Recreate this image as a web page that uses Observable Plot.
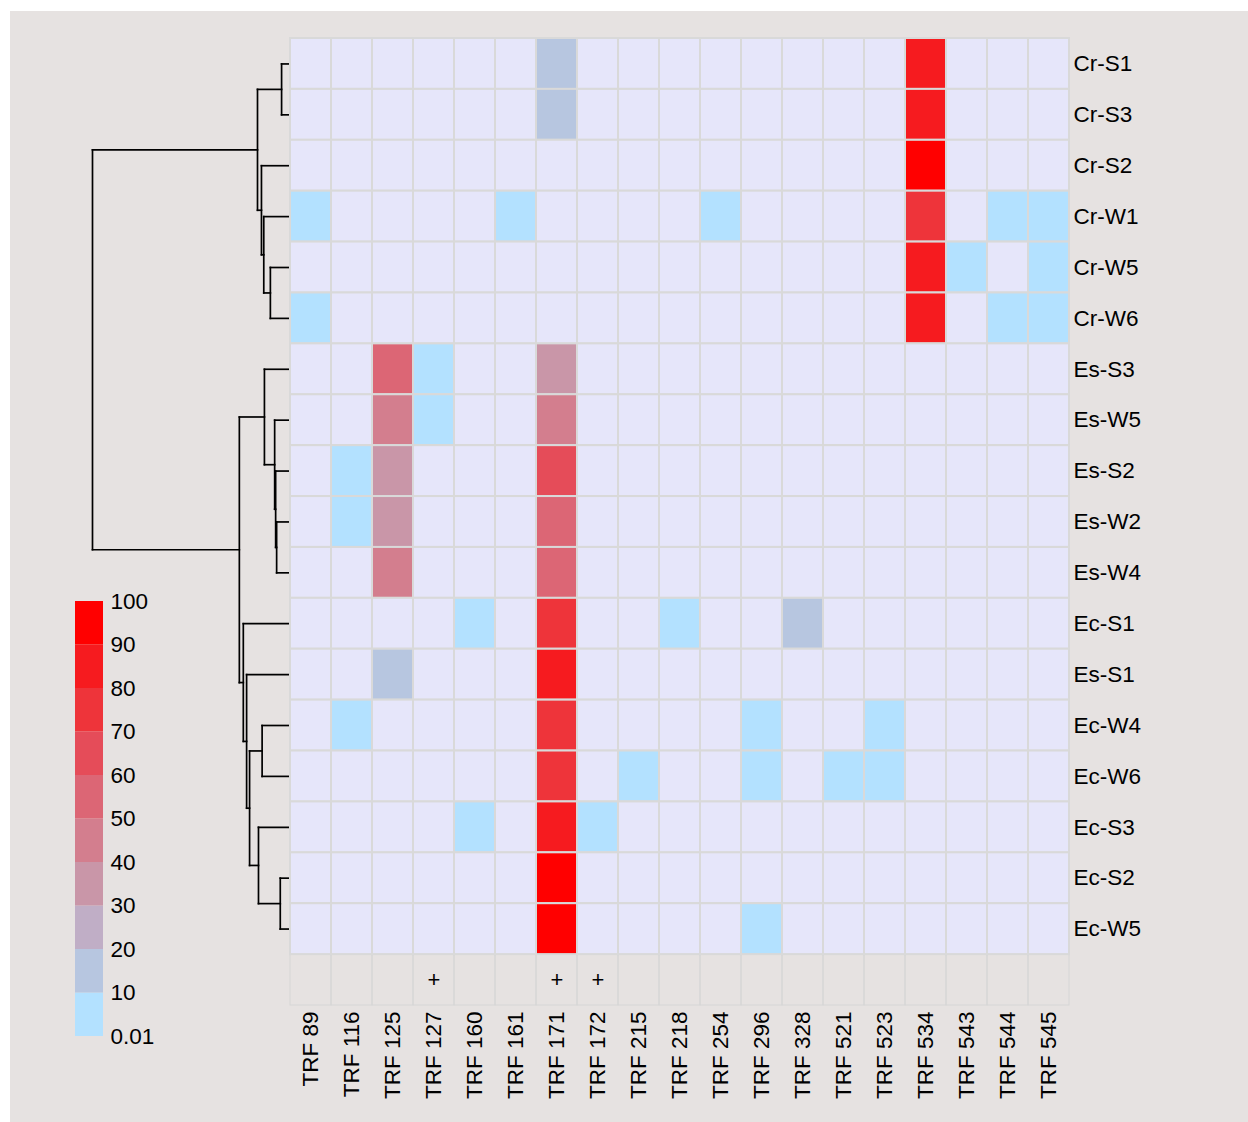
<!DOCTYPE html>
<html><head><meta charset="utf-8">
<script src="https://cdn.jsdelivr.net/npm/d3@7"></script>
<script src="https://cdn.jsdelivr.net/npm/@observablehq/plot@0.6"></script>
<style>
html,body{margin:0;padding:0;background:#fff;}
#wrap{position:relative;width:1248px;height:1122px;overflow:hidden;}
#panel{position:absolute;left:10px;top:11px;right:0;bottom:0;background:#e6e2e1;}
#wrap svg{position:absolute;left:0;top:0;}
</style></head><body><div id="wrap"><div id="panel"></div></div>
<script>
const columns = ["TRF 89","TRF 116","TRF 125","TRF 127","TRF 160","TRF 161","TRF 171","TRF 172","TRF 215","TRF 218","TRF 254","TRF 296","TRF 328","TRF 521","TRF 523","TRF 534","TRF 543","TRF 544","TRF 545"];
const rows = ["Cr-S1","Cr-S3","Cr-S2","Cr-W1","Cr-W5","Cr-W6","Es-S3","Es-W5","Es-S2","Es-W2","Es-W4","Ec-S1","Es-S1","Ec-W4","Ec-W6","Ec-S3","Ec-S2","Ec-W5"];
// relative abundance (%) per row, one entry per column; 0 = absent
const values = [
  [0,0,0,0,0,0,15,0,0,0,0,0,0,0,0,85,0,0,0],
  [0,0,0,0,0,0,15,0,0,0,0,0,0,0,0,85,0,0,0],
  [0,0,0,0,0,0,0,0,0,0,0,0,0,0,0,95,0,0,0],
  [5,0,0,0,0,5,0,0,0,0,5,0,0,0,0,75,0,5,5],
  [0,0,0,0,0,0,0,0,0,0,0,0,0,0,0,85,5,0,5],
  [5,0,0,0,0,0,0,0,0,0,0,0,0,0,0,85,0,5,5],
  [0,0,55,5,0,0,35,0,0,0,0,0,0,0,0,0,0,0,0],
  [0,0,45,5,0,0,45,0,0,0,0,0,0,0,0,0,0,0,0],
  [0,5,35,0,0,0,65,0,0,0,0,0,0,0,0,0,0,0,0],
  [0,5,35,0,0,0,55,0,0,0,0,0,0,0,0,0,0,0,0],
  [0,0,45,0,0,0,55,0,0,0,0,0,0,0,0,0,0,0,0],
  [0,0,0,0,5,0,75,0,0,5,0,0,15,0,0,0,0,0,0],
  [0,0,15,0,0,0,85,0,0,0,0,0,0,0,0,0,0,0,0],
  [0,5,0,0,0,0,75,0,0,0,0,5,0,0,5,0,0,0,0],
  [0,0,0,0,0,0,75,0,5,0,0,5,0,5,5,0,0,0,0],
  [0,0,0,0,5,0,85,5,0,0,0,0,0,0,0,0,0,0,0],
  [0,0,0,0,0,0,95,0,0,0,0,0,0,0,0,0,0,0,0],
  [0,0,0,0,0,0,95,0,0,0,0,5,0,0,0,0,0,0,0]
];
const annotated = ["TRF 127","TRF 171","TRF 172"];
const legendBreaks = [0.01,10,20,30,40,50,60,70,80,90,100];
const legendLabels = ["0.01","10","20","30","40","50","60","70","80","90","100"];
const palette = ["#b3e1ff","#b7c6e0","#c0aec6","#c996a8","#d37e8e","#dc6675","#e54c59","#ee343a","#f61b1f","#ff0000"];
const absentColor = "#e6e6fa";
// dendrogram: [node, left, right, height]
const merges = [
  ["n1","Cr-S1","Cr-S3",0.27],
  ["n2","Cr-W5","Cr-W6",0.61],
  ["n3","Cr-W1","n2",0.81],
  ["n4","Cr-S2","n3",0.88],
  ["n5","n1","n4",1.00],
  ["n6","Es-W2","Es-W4",0.42],
  ["n7","Es-S2","n6",0.45],
  ["n8","Es-W5","n7",0.48],
  ["n9","Es-S3","n8",0.79],
  ["n10","Ec-S2","Ec-W5",0.31],
  ["n11","Ec-S3","n10",0.97],
  ["n12","Ec-W4","Ec-W6",0.86],
  ["n13","n12","n11",1.24],
  ["n14","Es-S1","n13",1.33],
  ["n15","Ec-S1","n14",1.43],
  ["n16","n9","n15",1.55],
  ["n17","n5","n16",6.00]
];

const FONT = "'Liberation Sans', Arial, Helvetica, sans-serif";
const W = 1248, H = 1122;
const wrap = document.getElementById("wrap");

// dendrogram segments
const pos = new Map(rows.map((r, i) => [r, {h: 0, y: i}]));
const segs = [];
for (const [id, a, b, h] of merges) {
  const pa = pos.get(a), pb = pos.get(b);
  segs.push({x1: pa.h, y1: pa.y, x2: h, y2: pa.y});
  segs.push({x1: pb.h, y1: pb.y, x2: h, y2: pb.y});
  segs.push({x1: h, y1: pa.y, x2: h, y2: pb.y});
  pos.set(id, {h, y: (pa.y + pb.y) / 2});
}
const dendro = Plot.plot({
  width: W, height: H,
  marginLeft: 92, marginRight: W - 290, marginTop: 38, marginBottom: H - 954,
  style: {background: "transparent", overflow: "visible"},
  x: {domain: [0, 6], reverse: true, axis: null},
  y: {domain: [-0.5, rows.length - 0.5], reverse: true, axis: null},
  marks: [
    Plot.link(segs, {x1: "x1", y1: "y1", x2: "x2", y2: "y2", stroke: "#000", strokeWidth: 1.7, strokeLinecap: "square"})
  ]
});
wrap.appendChild(dendro);

// heatmap
const cells = [];
rows.forEach((r, i) => columns.forEach((c, j) => cells.push({row: r, col: c, value: values[i][j]})));
const heat = Plot.plot({
  width: W, height: H,
  marginLeft: 290, marginRight: W - 1069, marginTop: 38, marginBottom: H - 1005,
  style: {background: "transparent", overflow: "visible", fontFamily: FONT, color: "#000"},
  x: {domain: columns, padding: 0, round: false, label: null},
  y: {domain: [...rows, "annot"], padding: 0, round: false, label: null},
  color: {type: "threshold", domain: legendBreaks.slice(0, 10), range: [absentColor, ...palette]},
  marks: [
    Plot.cell(columns, {x: d => d, y: () => "annot", fill: "none", stroke: "#d6d6d6", strokeWidth: 1}),
    Plot.cell(cells, {x: "col", y: "row", fill: "value", stroke: "#d9d9d9", strokeWidth: 2}),
    Plot.text(annotated, {x: d => d, y: () => "annot", text: () => "+", fontSize: 22, fill: "#000"}),
    Plot.axisX({anchor: "bottom", tickSize: 0, tickPadding: 6, tickRotate: -90, fontSize: 22.5, fill: "#000", label: null}),
    Plot.axisY({anchor: "right", ticks: rows, tickSize: 0, tickPadding: 4, fontSize: 22.5, fill: "#000", label: null})
  ]
});
wrap.appendChild(heat);

// legend
const bins = palette.map((c, i) => ({lo: i === 0 ? 0 : legendBreaks[i], hi: legendBreaks[i + 1], color: c}));
const legend = Plot.plot({
  width: W, height: H,
  marginLeft: 75, marginRight: W - 103, marginTop: 601, marginBottom: H - 1036,
  style: {background: "transparent", overflow: "visible", fontFamily: FONT, color: "#000"},
  x: {domain: [0, 1], axis: null},
  y: {domain: [0, 100], axis: null},
  marks: [
    Plot.rect(bins, {x1: 0, x2: 1, y1: "lo", y2: "hi", fill: "color"}),
    Plot.text(legendLabels, {x: 1, y: (d, i) => i === 0 ? 0 : legendBreaks[i], text: d => d, dx: 7, textAnchor: "start", fontSize: 22.5, fill: "#000"})
  ]
});
wrap.appendChild(legend);
</script></body></html>
